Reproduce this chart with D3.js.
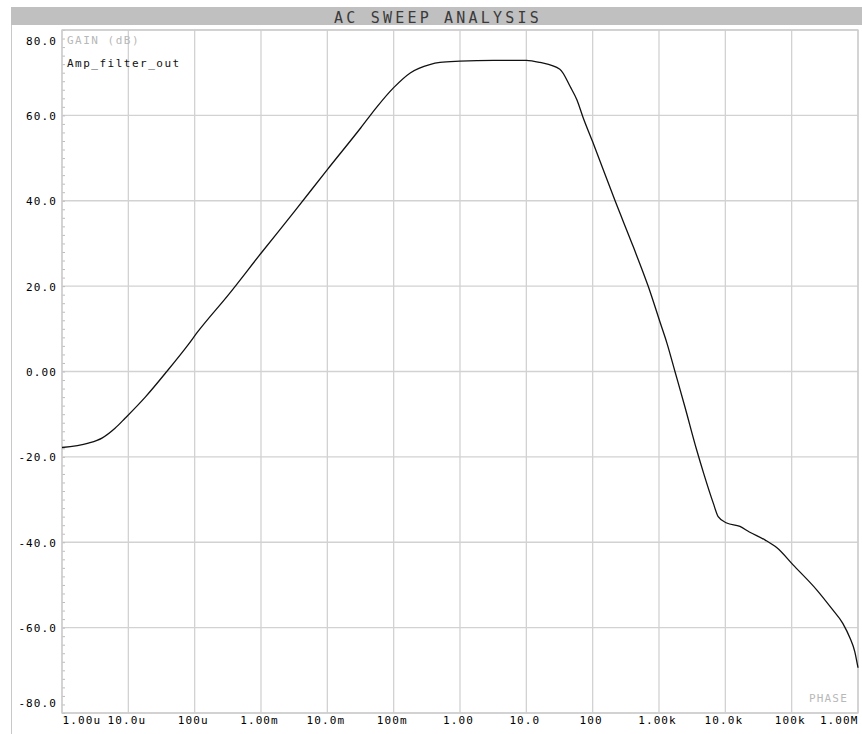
<!DOCTYPE html>
<html>
<head>
<meta charset="utf-8">
<script src="https://cdn.jsdelivr.net/npm/d3@7"></script>
<style>
  html, body { margin: 0; padding: 0; background: #ffffff; }
  svg { display: block; }
  text { font-family: "DejaVu Sans Mono", "Liberation Mono", monospace; }
</style>
</head>
<body>
<svg id="chart" width="862" height="734"></svg>
<script>
// AC sweep of Amp_filter_out: frequency (Hz) vs gain (dB)
const freqHz = [
  1e-6, 2.5e-6, 4e-6, 6.3e-6, 9e-6, 1.8e-5, 3.8e-5, 8e-5, 1.1e-4, 3.2e-4,
  1e-3, 3.2e-3, 1e-2, 3.2e-2, 5.6e-2, 0.1, 0.18, 0.35, 0.5, 1,
  3.2, 10, 16, 32, 46, 58, 71, 100, 220, 410,
  690, 1050, 1320, 1740, 2450, 3700, 4700, 6600, 7800, 10500,
  16600, 23000, 40000, 60000, 105000, 240000, 400000, 590000, 760000, 890000,
  1e6
];
const gainDb = [
  -17.8, -16.8, -15.6, -13.3, -10.9, -6.0, 0.0, 6.3, 9.2, 17.9,
  27.7, 37.5, 47.3, 57.1, 62.0, 66.5, 70.0, 71.9, 72.4, 72.7,
  72.9, 72.9, 72.4, 70.8, 66.7, 63.6, 59.7, 53.8, 39.8, 29.2,
  19.9, 11.3, 6.6, 0.0, -8.2, -18.4, -23.8, -30.9, -34.0, -35.5,
  -36.3, -37.6, -39.5, -41.3, -45.3, -51.2, -55.5, -59.0, -62.5, -65.5,
  -69.4
];

// Axis ticks and their labels
const xTickValues = [1e-6, 1e-5, 1e-4, 1e-3, 1e-2, 1e-1, 1, 10, 100, 1e3, 1e4, 1e5, 1e6];
const xTickLabels = ["1.00u", "10.0u", "100u", "1.00m", "10.0m", "100m", "1.00", "10.0", "100", "1.00k", "10.0k", "100k", "1.00M"];
const yTickValues = [80, 60, 40, 20, 0, -20, -40, -60, -80];
const yTickLabels = ["80.0", "60.0", "40.0", "20.0", "0.00", "-20.0", "-40.0", "-60.0", "-80.0"];

const titleText = "AC SWEEP ANALYSIS";
const yTitle = "GAIN (dB)";
const seriesName = "Amp_filter_out";
const rightNote = "PHASE";

const svg = d3.select("#chart");
const W = 862, H = 734;
const plot = { left: 62, right: 858, top: 30, bottom: 713 };

const x = d3.scaleLog().domain([1e-6, 1e6]).range([plot.left, plot.right]);
const y = d3.scaleLinear().domain([-80, 80]).range([plot.bottom, plot.top]);

// Title bar
svg.append("rect")
  .attr("x", 11).attr("y", 7).attr("width", W - 11).attr("height", 18)
  .attr("fill", "#c0c0c0");
svg.append("text")
  .attr("x", (11 + W) / 2 + 1.5).attr("y", 22.5)
  .attr("text-anchor", "middle")
  .attr("font-size", 15)
  .attr("letter-spacing", 3.2)
  .attr("fill", "#3a3a3a")
  .text(titleText);

// Left rule of the window
svg.append("line")
  .attr("x1", 11.5).attr("x2", 11.5).attr("y1", 25).attr("y2", H)
  .attr("stroke", "#c8c8c8").attr("stroke-width", 1);

// Grid
const grid = svg.append("g").attr("stroke", "#d2d2d2").attr("stroke-width", 1.3);
grid.selectAll("line.vx").data(xTickValues).join("line")
  .attr("class", "vx")
  .attr("x1", d => x(d)).attr("x2", d => x(d))
  .attr("y1", plot.top).attr("y2", plot.bottom);
grid.selectAll("line.hy").data(yTickValues).join("line")
  .attr("class", "hy")
  .attr("x1", plot.left).attr("x2", plot.right)
  .attr("y1", d => y(d)).attr("y2", d => y(d));

// Minor ticks on the gain axis, every 2 dB
const minorAxis = d3.axisRight(y).tickValues(d3.range(-80, 81, 2)).tickSize(3).tickFormat("");
const gMinor = svg.append("g").attr("transform", `translate(${plot.left},0)`).call(minorAxis);
gMinor.select(".domain").remove();
gMinor.selectAll(".tick line").attr("stroke", "#bdbdbd").attr("stroke-width", 1);

// Y axis labels
const yAxis = d3.axisLeft(y).tickValues(yTickValues).tickSize(0).tickPadding(5)
  .tickFormat((d, i) => yTickLabels[i]);
const gY = svg.append("g").attr("transform", `translate(${plot.left},0)`).call(yAxis);
gY.select(".domain").remove();
gY.selectAll(".tick text")
  .attr("font-family", "DejaVu Sans Mono, monospace")
  .attr("font-size", 11)
  .attr("letter-spacing", 1.1)
  .attr("fill", "#000")
  .attr("dy", d => d === 80 ? "1.32em" : d === -80 ? "-0.62em" : "0.36em");

// X axis labels
const xAxis = d3.axisBottom(x).tickValues(xTickValues).tickSize(0).tickPadding(3)
  .tickFormat((d, i) => xTickLabels[i]);
const gX = svg.append("g").attr("transform", `translate(0,${plot.bottom})`).call(xAxis);
gX.select(".domain").remove();
gX.selectAll(".tick text")
  .attr("font-family", "DejaVu Sans Mono, monospace")
  .attr("font-size", 11)
  .attr("letter-spacing", 1.1)
  .attr("fill", "#000")
  .attr("text-anchor", (d, i) => i === 0 ? "start" : i === xTickValues.length - 1 ? "end" : "middle")
  .attr("dx", (d, i) => i === 0 ? 0 : i === xTickValues.length - 1 ? 0 : -2);

// Plot frame
svg.append("rect")
  .attr("x", plot.left).attr("y", plot.top)
  .attr("width", plot.right - plot.left).attr("height", plot.bottom - plot.top)
  .attr("fill", "none").attr("stroke", "#cccccc").attr("stroke-width", 1.3);

// Annotations
svg.append("text")
  .attr("x", 67).attr("y", 44)
  .attr("font-size", 11).attr("letter-spacing", 1.5)
  .attr("fill", "#b8b8b8")
  .text(yTitle);
svg.append("text")
  .attr("x", 67).attr("y", 67)
  .attr("font-size", 11).attr("letter-spacing", 1.5)
  .attr("fill", "#111")
  .text(seriesName);
svg.append("text")
  .attr("x", 848).attr("y", 701.5)
  .attr("text-anchor", "end")
  .attr("font-size", 11).attr("letter-spacing", 1.2)
  .attr("fill", "#b8b8b8")
  .text(rightNote);

// Gain curve
const points = freqHz.map((f, i) => [f, gainDb[i]]);
const line = d3.line()
  .x(d => x(d[0]))
  .y(d => y(d[1]))
  .curve(d3.curveMonotoneX);
svg.append("path")
  .datum(points)
  .attr("d", line)
  .attr("fill", "none")
  .attr("stroke", "#111")
  .attr("stroke-width", 1.3)
  .attr("stroke-linejoin", "round");
</script>
</body>
</html>
